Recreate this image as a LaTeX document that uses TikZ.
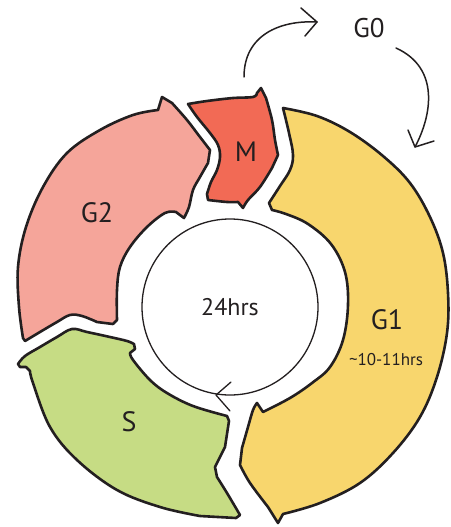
\documentclass[tikz,border=0pt]{standalone}
\usepackage{fontspec}
\setmainfont{PT Sans}
\definecolor{gonecol}{HTML}{F8D66D}
\definecolor{mcol}{HTML}{F26A55}
\definecolor{gtwocol}{HTML}{F5A59A}
\definecolor{scol}{HTML}{C6DC84}
\definecolor{ink}{HTML}{231F20}
\tikzset{
  phase/.style={draw=ink, line width=2.6pt, line join=round, line cap=round},
  lbl/.style={text=ink, inner sep=0pt, font=\fontsize{28}{30}\selectfont},
  thinline/.style={draw=ink, line width=1.5pt, line cap=round, line join=round}
}
\begin{document}
\begin{tikzpicture}[x=1pt,y=-1pt]
\useasboundingbox (0,0) rectangle (450,527);
% G1 (yellow)
\path[phase, fill=gonecol] plot[smooth, tension=0.6] coordinates {(283,108) (317,116) (350,132) (383,156) (410,183) (430,217) (443,253) (448,293) (447,333) (437,377) (420,417) (393,453) (360,483) (320,503) (283,514)}
  -- (278,523)
  -- plot[smooth, tension=0.6] coordinates {(268,507) (250,483) (240,465)}
  -- plot[smooth, tension=0.6] coordinates {(242,448) (248,427) (253,410) (257,403)}
  -- plot[smooth, tension=0.6] coordinates {(263,412) (290,398) (312,383) (330,367) (343,340) (348,305) (345,272) (331,244) (308,224) (286,214) (272,210)}
  -- plot[smooth, tension=0.6] coordinates {(269,203) (280,186) (290,170) (293,155) (289,133) (283,108)}
  -- cycle;
% M (red)
\path[phase, fill=mcol] plot[smooth, tension=0.6] coordinates {(188,104) (207,101) (233,98) (253,97) (257,93)}
  -- (261,88)
  -- plot[smooth, tension=0.6] coordinates {(266,98) (272,120) (275,140) (278,155)}
  -- plot[smooth, tension=0.6] coordinates {(272,168) (260,187) (248,200) (243,208)}
  -- plot[smooth, tension=0.6] coordinates {(238,202) (227,202) (208,200)}
  -- plot[smooth, tension=0.6] coordinates {(207,194) (211,182) (217,170) (220,157) (218,145) (210,133) (197,117) (188,104)}
  -- cycle;
% G2 (pink)
\path[phase, fill=gtwocol] plot[smooth, tension=0.6] coordinates {(23,338) (19,307) (18,267) (26,227) (43,187) (67,153) (100,130) (133,115) (158,110)}
  -- (162,97)
  -- plot[smooth, tension=0.6] coordinates {(172,103) (187,120) (200,137) (210,150)}
  -- plot[smooth, tension=0.6] coordinates {(208,163) (200,177) (193,190) (189,207) (184,218)}
  -- plot[smooth, tension=0.6] coordinates {(176,212) (165,213) (147,227) (130,247) (120,267) (117,290) (117,320)}
  -- (113,324)
  -- plot[smooth, tension=0.6] coordinates {(97,322) (82,316) (70,315) (57,322) (40,332) (25,341)}
  -- cycle;
% S (green)
\path[phase, fill=scol] plot[smooth, tension=0.6] coordinates {(18,364) (25,356) (40,347) (57,337) (72,329) (87,332) (110,337) (127,341) (134,344)}
  -- (135,349)
  -- plot[smooth, tension=0.6] coordinates {(130,353) (133,360) (150,380) (167,393) (193,406) (227,416)}
  -- (229,421)
  -- plot[smooth, tension=0.6] coordinates {(225,447) (215,467)}
  -- plot[smooth, tension=0.6] coordinates {(217,477) (227,493) (240,515)}
  -- (236,518)
  -- plot[smooth, tension=0.6] coordinates {(200,516) (160,507) (117,490) (77,460) (50,427) (33,383) (30,371)}
  -- (26,367) -- (20,367)
  -- cycle;
% centre clock
\node[circle, draw=ink, line width=1.3pt, minimum size=176pt, inner sep=0pt, text=ink, font=\fontsize{24}{26}\selectfont] (clock) at (230,307) {24hrs};
\coordinate (chevtop) at (231,382);
\coordinate (chevtip) at (216,395);
\coordinate (chevbot) at (230,411);
\draw[thinline, line width=1.3pt] (chevtop) -- (chevtip) -- (chevbot);
% labels
\node[lbl] (mlab) at (246,152) {M};
\node[lbl] (gtwolab) at (97,213) {G2};
\node[lbl] (gonelab) at (387,320) {G1};
\node[lbl, font=\fontsize{17}{19}\selectfont] (gonehrs) at (386,360) {\textasciitilde10-11hrs};
\node[lbl] (slab) at (129,422) {S};
\node[lbl, font=\fontsize{27}{29}\selectfont] (gzero) at (369,28) {G0};
% G0 arrows
\coordinate (outstart) at (244,77);
\coordinate (outend) at (317,22);
\coordinate (outarmA) at (301,8);
\coordinate (outarmB) at (305,36);
\coordinate (instart) at (396,48);
\coordinate (inend) at (415,147);
\coordinate (inarmA) at (408,130);
\coordinate (inarmB) at (434,141);
\draw[thinline] (outstart) .. controls (244,35) and (280,20) .. (outend);
\draw[thinline] (outarmA) -- (outend) -- (outarmB);
\draw[thinline] (instart) .. controls (440,68) and (432,115) .. (inend);
\draw[thinline] (inarmA) -- (inend) -- (inarmB);
\end{tikzpicture}
\end{document}
